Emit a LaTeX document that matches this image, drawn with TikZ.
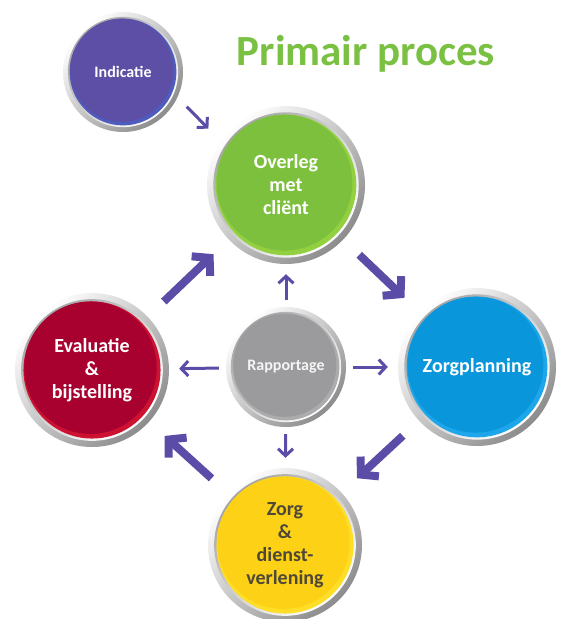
\documentclass[tikz,border=0pt]{standalone}
\usepackage{fontspec}
\setmainfont{Carlito}
\usetikzlibrary{arrows.meta}

\definecolor{arrowpurple}{RGB}{91,77,167}
\definecolor{titlegreen}{RGB}{122,193,67}
\definecolor{indpurple}{RGB}{92,79,165}
\definecolor{indlight}{RGB}{78,92,190}
\definecolor{overgreen}{RGB}{125,192,62}
\definecolor{overlight}{RGB}{146,208,64}
\definecolor{planblue}{RGB}{10,150,218}
\definecolor{planlight}{RGB}{30,166,234}
\definecolor{evalred}{RGB}{168,0,47}
\definecolor{evallight}{RGB}{204,18,48}
\definecolor{rappgrey}{RGB}{155,155,157}
\definecolor{rapplight}{RGB}{172,172,174}
\definecolor{zorgyellow}{RGB}{253,209,22}
\definecolor{zorglight}{RGB}{255,222,40}
\definecolor{zorgtext}{RGB}{77,72,56}

\begin{document}
\begin{tikzpicture}[x=1pt, y=-1pt,
  ball/.style n args={3}{circle, minimum size=2*#3, inner sep=0pt, align=center,
    text=white, font=\bfseries\fontsize{20}{23}\selectfont,
    path picture={
      \shade[top color=white, bottom color=black!45, shading angle=45]
        (path picture bounding box.center) circle[radius=#3];
      \shade[top color=black!35, bottom color=white, shading angle=45]
        (path picture bounding box.center) circle[radius=0.92*#3];
      \fill[#2] (path picture bounding box.center) circle[radius=0.89*#3];
      \fill[#1] ([xshift=-0.02*#3, yshift=0.03*#3]path picture bounding box.center)
        circle[radius=0.86*#3];
    }},
  bigarrow/.style={draw=arrowpurple, line width=8pt,
    -{Straight Barb[length=12pt, width=27pt]}, shorten <=22pt, shorten >=21pt},
  smallarrow/.style={draw=arrowpurple, line width=3pt,
    -{Straight Barb[length=7pt, width=15pt]}, shorten <=7pt, shorten >=10pt}]
  \useasboundingbox (0,0) rectangle (567,619);

  %draw title
  \node[anchor=base, text=titlegreen, font=\bfseries\fontsize{43}{50}\selectfont]
    (title) at (366,65) {Primair proces};

  %draw circles
  \node[ball={indpurple}{indlight}{60pt}, font=\bfseries\fontsize{16}{19}\selectfont]
    (ind) at (123,72) {Indicatie};
  \node[ball={overgreen}{overlight}{79pt}] (overleg) at (286,185) {Overleg\\met\\cliënt};
  \node[ball={evalred}{evallight}{77pt}] (eval) at (92,370) {Evaluatie\\\&\\bijstelling};
  \node[ball={planblue}{planlight}{79pt}] (zorgpl) at (477,367) {Zorgplanning};
  \node[ball={rappgrey}{rapplight}{60pt}, text=black!4,
    font=\bfseries\fontsize{16}{19}\selectfont] (rapp) at (286,367) {Rapportage};
  \node[ball={zorgyellow}{zorglight}{77pt}, text=zorgtext]
    (zorg) at (285,545) {Zorg\\\&\\dienst-\\verlening};

  %draw thick arrows
  \draw[bigarrow] (eval) -- (overleg);
  \draw[bigarrow] (overleg) -- (zorgpl);
  \draw[bigarrow] (zorgpl) -- (zorg);
  \draw[bigarrow] (zorg) -- (eval);

  %draw thin arrows
  \foreach \t in {overleg,zorgpl,zorg,eval}
     \draw[smallarrow] (rapp) -- (\t);
  \draw[smallarrow, shorten <=13pt, shorten >=17pt] (ind.-25) -- (overleg.146);
\end{tikzpicture}
\end{document}
